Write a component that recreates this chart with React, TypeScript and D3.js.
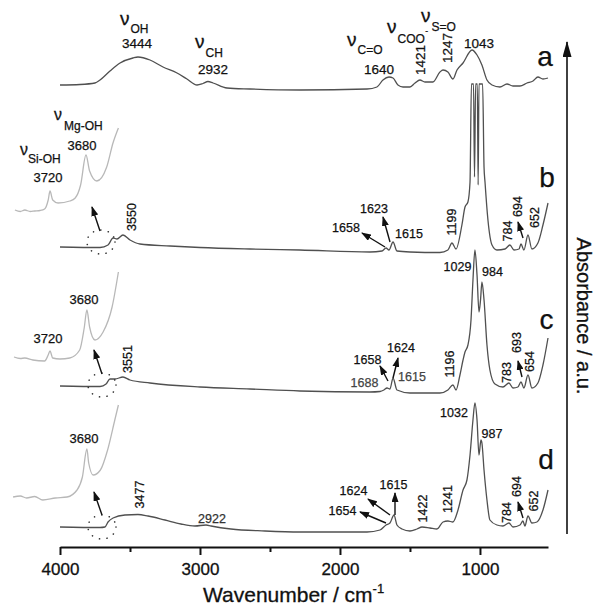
import React, { useEffect, useRef } from "react";
import * as d3 from "d3";

type Pt = [number, number];

// Spectra: [wavenumber (cm-1), absorbance (a.u., relative to own baseline)]
const specA: Pt[] = [[4000,0],[3857,0.05],[3750,0.2],[3714,0.5],[3643,1.4],[3571,2.2],[3479,2.7],[3443,2.8],[3357,2.5],[3264,1.8],[3164,1.2],[3093,0.6],[3021,0],[2979,0.15],[2943,0.35],[2907,0.2],[2807,-0.3],[2643,-0.4],[2286,-0.5],[1807,-0.4],[1736,-0.2],[1693,0.5],[1650,0.8],[1621,0.7],[1586,0],[1550,-0.2],[1500,-0.2],[1464,0.2],[1429,0.5],[1393,0.3],[1336,0.3],[1286,1.3],[1264,1.5],[1229,1.3],[1193,0.6],[1164,1.5],[1121,2.2],[1057,3.5],[1021,3.0],[986,2.0],[950,0.5],[914,0],[857,-0.2],[807,0.1],[764,-0.1],[714,-0.1],[664,0.2],[621,0.4],[586,0.8],[550,0.6],[514,0.7]];
const specB: Pt[] = [[4000,0],[3714,-0.05],[3657,0.2],[3621,0.9],[3593,0.8],[3550,1.2],[3500,0.7],[3429,0.3],[3214,0.1],[3000,-0.05],[2643,-0.2],[2286,-0.3],[1786,-0.5],[1700,-0.4],[1671,-0.1],[1650,-0.3],[1621,0.5],[1593,-0.4],[1500,-0.5],[1286,-0.55],[1229,-0.3],[1200,0.4],[1171,-0.2],[1129,2.2],[1107,4.0],[1086,4.5],[1071,6.5],[1061,16.3],[1046,16.3],[1039,7.0],[1031,16.3],[1019,16.3],[1013,6.2],[1007,16.3],[981,16.3],[971,8.0],[964,6.5],[943,2.7],[914,0.2],[879,-0.3],[821,-0.2],[786,0.2],[757,-0.3],[721,-0.2],[707,0.3],[686,-0.3],[657,1.2],[629,-0.2],[586,0.4],[550,2.2],[514,4.4]];
const specC: Pt[] = [[4000,0],[3714,-0.05],[3671,0.2],[3643,0.7],[3607,0.7],[3550,0.9],[3500,0.6],[3357,0.3],[3000,-0.1],[2643,-0.3],[2286,-0.5],[1786,-0.6],[1714,-0.55],[1686,-0.4],[1664,-0.2],[1643,-0.3],[1621,0.8],[1593,-0.4],[1500,-0.7],[1286,-0.7],[1229,-0.4],[1193,0.1],[1171,-0.4],[1143,1.1],[1121,2.6],[1107,3.4],[1086,4.1],[1064,6.6],[1050,10.6],[1036,13.6],[1021,11.1],[1007,7.4],[996,8.6],[986,10.4],[971,8.6],[950,4.1],[929,1.6],[893,0.2],[836,-0.1],[793,0.3],[764,-0.2],[729,-0.1],[707,0.4],[686,-0.2],[657,1.1],[629,-0.2],[586,0.3],[550,2.1],[514,4.8]];
const specD: Pt[] = [[4000,0],[3714,-0.05],[3679,0],[3657,0.5],[3621,0.9],[3536,1.2],[3443,1.25],[3371,1.1],[3250,0.7],[3136,0.3],[3036,0.1],[2957,0.2],[2921,0.1],[2779,-0.2],[2536,-0.4],[2286,-0.5],[1807,-0.5],[1714,-0.3],[1671,0.2],[1643,0.4],[1614,1.2],[1593,0.2],[1557,-0.2],[1500,-0.4],[1450,-0.2],[1414,0],[1357,-0.1],[1307,-0.2],[1264,0.5],[1229,0.6],[1193,0.5],[1157,1.7],[1121,3.7],[1093,4.7],[1071,7.2],[1050,10.7],[1036,12.4],[1021,10.7],[1007,7.2],[993,8.7],[986,8.4],[971,5.7],[950,2.7],[929,0.7],[879,0.2],[836,0.1],[793,0.4],[764,0],[714,0.2],[693,0.6],[679,0.1],[657,1.1],[629,0.4],[593,0.5],[550,1.7],[514,3.7]];

// Expanded OH-region insets
const insetB: Pt[] = [[3759,0.1],[3753,-0.05],[3748,0.1],[3742,-0.05],[3737,0],[3731,0.05],[3726,0.2],[3722,1.1],[3720,2.0],[3717,1.1],[3711,0.8],[3698,1.0],[3692,1.3],[3686,2.6],[3680,5.6],[3676,4.0],[3668,3.0],[3657,4.4],[3650,6.8],[3644,8.3]];
const insetC: Pt[] = [[3760,0.1],[3753,-0.05],[3748,0],[3739,-0.2],[3726,-0.3],[3722,0.3],[3720,0.7],[3717,0],[3709,-0.1],[3698,0],[3687,0.8],[3682,3.0],[3679,4.8],[3676,3.1],[3670,1.8],[3661,2.6],[3651,5.1],[3644,8.6]];
const insetD: Pt[] = [[3761,0],[3753,0.1],[3746,-0.1],[3737,0.05],[3728,-0.3],[3714,-0.1],[3701,0],[3690,0.7],[3684,2.0],[3679,4.8],[3677,3.4],[3672,2.2],[3664,2.7],[3656,4.7],[3648,7.7],[3644,9.2]];

const spectra = [specA, specB, specC, specD];
const specOffsets = [46.2, 30.0, 16.1, 2.0];
const insets = [insetB, insetC, insetD];
const insetOffsets = [33.6, 18.9, 5.0];

const majorTicks = [4000, 3000, 2000, 1000];
const minorTicks = [3500, 2500, 1500];

const FONT = "'Liberation Sans', Arial, Helvetica, sans-serif";

const xScale = d3.scaleLinear().domain([4000, 514]).range([60, 548]);
const yScale = d3.scaleLinear().domain([0, 50]).range([547, 47]);
const insetX = d3.scaleLinear().domain([3720, 3680]).range([50, 86]);

function L({ x, y, t, r = false, s = 12.5, fill = "#111" }: { x: number; y: number; t: string; r?: boolean; s?: number; fill?: string }) {
  return (
    <text
      x={x}
      y={y}
      dy="0.35em"
      textAnchor="middle"
      fontSize={s}
      fill={fill}
      stroke={fill}
      strokeWidth={0.25}
      transform={r ? `rotate(-90 ${x} ${y})` : undefined}
    >
      {t}
    </text>
  );
}

function Nu({ x, y, sub, s = 19, ss = 12, dx = 1, dy = 8 }: { x: number; y: number; sub: string; s?: number; ss?: number; dx?: number; dy?: number }) {
  return (
    <g>
      <text x={x} y={y} fontSize={s} fill="#111" stroke="#111" strokeWidth={0.3}>ν</text>
      <text x={x + s * 0.5 + dx} y={y + dy} fontSize={ss} fill="#111" stroke="#111" strokeWidth={0.25}>{sub}</text>
    </g>
  );
}

function Arrow({ x1, y1, x2, y2 }: { x1: number; y1: number; x2: number; y2: number }) {
  return <line x1={x1} y1={y1} x2={x2} y2={y2} stroke="#111" strokeWidth={1.4} markerEnd="url(#ah)" />;
}

export default function App() {
  const axRef = useRef<SVGGElement>(null);
  const minRef = useRef<SVGGElement>(null);

  useEffect(() => {
    if (axRef.current) {
      const g = d3.select(axRef.current);
      g.call(
        d3.axisBottom(xScale).tickValues(majorTicks).tickSize(8).tickSizeOuter(0).tickPadding(8).tickFormat(d3.format("d"))
      );
      g.select(".domain").attr("stroke", "#111").attr("stroke-width", 2);
      g.selectAll(".tick line").attr("stroke", "#111").attr("stroke-width", 2);
      g.selectAll(".tick text")
        .attr("font-size", 17)
        .attr("font-family", FONT)
        .attr("fill", "#111")
        .attr("stroke", "#111")
        .attr("stroke-width", 0.3);
    }
    if (minRef.current) {
      const g = d3.select(minRef.current);
      g.call(d3.axisBottom(xScale).tickValues(minorTicks).tickSize(5).tickSizeOuter(0).tickFormat(() => ""));
      g.select(".domain").remove();
      g.selectAll(".tick line").attr("stroke", "#111").attr("stroke-width", 2);
    }
  }, []);

  const mainPaths = spectra.map((sp, i) =>
    d3.line<Pt>().x((d) => xScale(d[0])).y((d) => yScale(d[1] + specOffsets[i])).curve(d3.curveMonotoneX)(sp) || ""
  );
  const insetPaths = insets.map((sp, i) =>
    d3.line<Pt>().x((d) => insetX(d[0])).y((d) => yScale(d[1] + insetOffsets[i])).curve(d3.curveMonotoneX)(sp) || ""
  );

  const circles = [[101, 242], [102, 385], [102, 527]];
  const circleArrows = [[100, 231, 92, 207], [102, 374, 94, 350], [102, 515, 94, 492]];

  return (
    <svg width={597} height={608} style={{ position: "absolute", left: 0, top: 0, background: "#fff" }} fontFamily={FONT}>
      <defs>
        <marker id="ah" markerUnits="userSpaceOnUse" markerWidth={10} markerHeight={7} refX={9} refY={3.5} orient="auto">
          <path d="M0,0 L10,3.5 L0,7 Z" fill="#111" />
        </marker>
        <marker id="bigah" markerUnits="userSpaceOnUse" markerWidth={16} markerHeight={9} refX={15} refY={4.5} orient="auto">
          <path d="M0,0 L16,4.5 L0,9 Z" fill="#111" />
        </marker>
      </defs>

      {insetPaths.map((p, i) => (
        <path key={"in" + i} d={p} fill="none" stroke="#b8b8b8" strokeWidth={1.3} />
      ))}
      {mainPaths.map((p, i) => (
        <path key={"sp" + i} d={p} fill="none" stroke="#505050" strokeWidth={1.3} />
      ))}

      {circles.map(([cx, cy], i) => (
        <ellipse key={"c" + i} cx={cx} cy={cy} rx={14} ry={12} fill="none" stroke="#333" strokeWidth={1.6} strokeDasharray="0.1 7.5" strokeLinecap="round" />
      ))}
      {circleArrows.map(([a, b, c, d], i) => (
        <Arrow key={"ca" + i} x1={a} y1={b} x2={c} y2={d} />
      ))}

      <g ref={axRef} transform="translate(0,547)" />
      <g ref={minRef} transform="translate(0,547)" />

      <text x={203} y={602} fontSize={21} fill="#111" stroke="#111" strokeWidth={0.3}>
        Wavenumber / cm<tspan fontSize={13} dy={-9}>-1</tspan>
      </text>

      <line x1={567} y1={534} x2={567} y2={42} stroke="#111" strokeWidth={1.6} markerEnd="url(#bigah)" />
      <text x={584} y={316} dy="0.35em" textAnchor="middle" fontSize={20} fill="#111" stroke="#111" strokeWidth={0.3} transform="rotate(90 584 316)">
        Absorbance / a.u.
      </text>

      {/* spectrum a */}
      <Nu x={120} y={25} sub="OH" dy={8} />
      <L x={137} y={43} t="3444" s={13.5} />
      <Nu x={195} y={48} sub="CH" dy={9} />
      <L x={213} y={69} t="2932" s={13.5} />
      <Nu x={347} y={46} sub="C=O" dy={8} />
      <L x={379} y={69} t="1640" s={13.5} />
      <Nu x={387} y={33} sub="COO" dy={10} />
      <text x={425} y={34} fontSize={10} fill="#111">-</text>
      <L x={420} y={60} t="1421" r s={13.5} />
      <Nu x={421} y={22} sub="S=O" dy={9} />
      <L x={447} y={48} t="1247" r s={13.5} />
      <L x={479} y={43} t="1043" s={13.5} />
      <L x={545} y={56} t="a" s={28} />

      {/* spectrum b */}
      <Nu x={54} y={120} sub="Mg-OH" s={16} dy={10} dx={2} />
      <L x={82} y={145} t="3680" s={13} />
      <Nu x={20} y={155} sub="Si-OH" s={16} dy={8} dx={0} />
      <L x={48} y={177} t="3720" s={13} />
      <L x={132} y={217} t="3550" r />
      <L x={346} y={228} t="1658" />
      <L x={374} y={208.5} t="1623" />
      <L x={409} y={234} t="1615" />
      <L x={452} y={222} t="1199" r />
      <L x={547} y={177} t="b" s={28} />
      <L x={507.5} y={231} t="784" r />
      <L x={517.5} y={206.5} t="694" r />
      <L x={534.5} y={217.5} t="652" r />
      <Arrow x1={385} y1={247} x2={362} y2={233} />
      <Arrow x1={390} y1={242} x2={383} y2={217} />
      <Arrow x1={523} y1={238} x2={518} y2={222} />

      {/* spectrum c */}
      <L x={84} y={299.5} t="3680" s={13} />
      <L x={48} y={338.5} t="3720" s={13} />
      <L x={128} y={359} t="3551" r />
      <L x={457.5} y={267} t="1029" />
      <L x={492.5} y={272} t="984" />
      <L x={546.5} y={319} t="c" s={28} />
      <L x={367.5} y={360} t="1658" />
      <L x={401} y={348} t="1624" />
      <L x={364.5} y={383} t="1688" fill="#444" />
      <L x={412} y={377} t="1615" fill="#444" />
      <L x={450} y={364} t="1196" r />
      <L x={507} y={372.5} t="783" r />
      <L x={516.5} y={342.5} t="693" r />
      <L x={530} y={361.5} t="654" r />
      <Arrow x1={388} y1={381} x2={380} y2={366} />
      <Arrow x1={393} y1={378} x2={398} y2={358} />
      <Arrow x1={522} y1={377} x2={518} y2={361} />

      {/* spectrum d */}
      <L x={84} y={438} t="3680" s={13} />
      <L x={140} y={494.5} t="3477" r />
      <L x={212} y={519} t="2922" fill="#333" />
      <L x={454} y={413} t="1032" />
      <L x={492} y={433.5} t="987" />
      <L x={546} y={459} t="d" s={28} />
      <L x={353.5} y={491} t="1624" />
      <L x={393.5} y={485} t="1615" />
      <L x={342.5} y={510.5} t="1654" />
      <L x={423} y={508.5} t="1422" r />
      <L x={448} y={499} t="1241" r />
      <L x={507} y={512.5} t="784" r />
      <L x={516.5} y={486.5} t="694" r />
      <L x={534} y={501} t="652" r />
      <Arrow x1={390} y1={515} x2={368} y2={499} />
      <Arrow x1={386} y1={523} x2={360} y2={512} />
      <Arrow x1={395} y1={515} x2={395} y2={493} />
      <Arrow x1={523} y1={518} x2={518} y2={502} />
    </svg>
  );
}
